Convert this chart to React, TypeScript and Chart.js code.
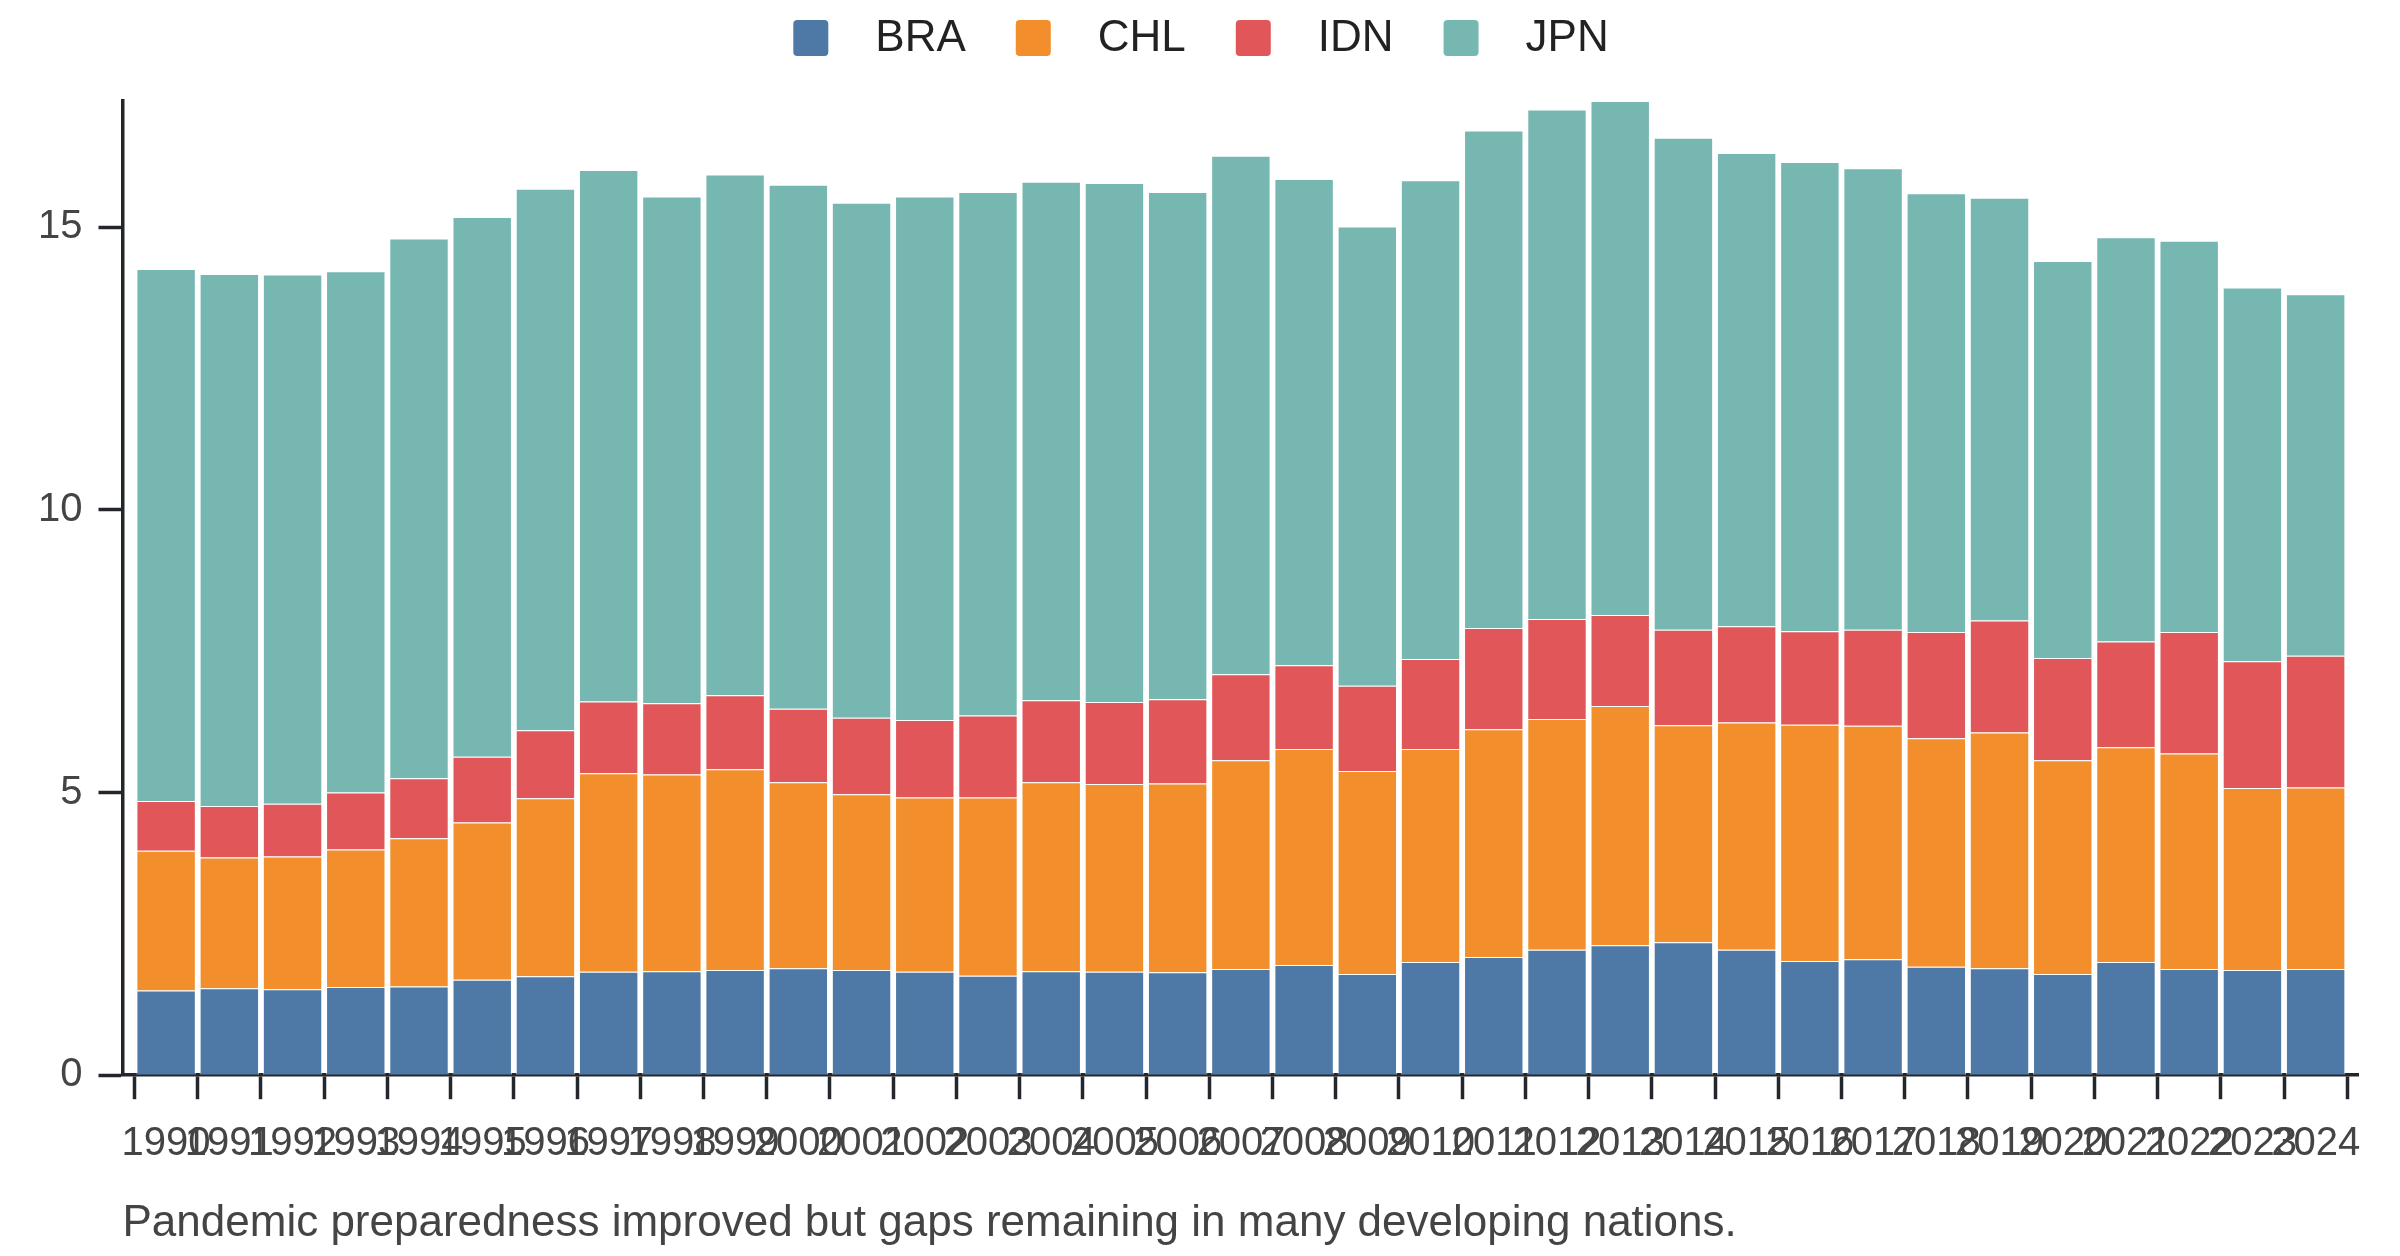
import { useEffect, useRef } from "react";
import { Chart, registerables } from "chart.js";

Chart.register(...registerables);

const YEARS = [
  1990, 1991, 1992, 1993, 1994, 1995, 1996, 1997, 1998, 1999, 2000, 2001,
  2002, 2003, 2004, 2005, 2006, 2007, 2008, 2009, 2010, 2011, 2012, 2013,
  2014, 2015, 2016, 2017, 2018, 2019, 2020, 2021, 2022, 2023, 2024,
];
const BRA = [
  1.5, 1.54, 1.52, 1.56, 1.57, 1.69, 1.75, 1.83, 1.84, 1.86, 1.89, 1.86,
  1.83, 1.76, 1.84, 1.83, 1.82, 1.88, 1.95, 1.79, 2.0, 2.09, 2.22, 2.3,
  2.35, 2.22, 2.02, 2.05, 1.92, 1.89, 1.79, 2.0, 1.88, 1.86, 1.88,
];
const CHL = [
  2.47, 2.31, 2.35, 2.43, 2.62, 2.78, 3.15, 3.51, 3.48, 3.55, 3.29, 3.11,
  3.08, 3.15, 3.34, 3.32, 3.34, 3.69, 3.82, 3.59, 3.77, 4.03, 4.08, 4.23,
  3.84, 4.02, 4.18, 4.13, 4.04, 4.17, 3.78, 3.8, 3.81, 3.22, 3.21,
];
const IDN = [
  0.88, 0.91, 0.93, 1.01, 1.06, 1.16, 1.2, 1.27, 1.26, 1.31, 1.3, 1.35,
  1.37, 1.45, 1.45, 1.45, 1.49, 1.52, 1.48, 1.51, 1.59, 1.79, 1.77, 1.61,
  1.69, 1.7, 1.65, 1.7, 1.88, 1.98, 1.81, 1.87, 2.15, 2.24, 2.33,
];
const JPN = [
  9.41, 9.41, 9.36, 9.22, 9.55, 9.55, 9.58, 9.4, 8.96, 9.21, 9.27, 9.11,
  9.26, 9.26, 9.17, 9.18, 8.97, 9.17, 8.6, 8.12, 8.47, 8.8, 9.01, 9.09,
  8.7, 8.37, 8.3, 8.16, 7.76, 7.48, 7.02, 7.15, 6.92, 6.61, 6.39,
];
const SERIES_NAMES = ["BRA", "CHL", "IDN", "JPN"];
const SERIES_VALUES = [BRA, CHL, IDN, JPN];
const COLORS = ["#4e79a7", "#f28e2b", "#e15759", "#76b7b2"];
const Y_TICKS = [0, 5, 10, 15];
const CAPTION =
  "Pandemic preparedness improved but gaps remaining in many developing nations.";

const FONT = '"Liberation Sans", Arial, sans-serif';
const AXIS = "#23262b";

// legend drawn above the plot: box, wide gap, label
const topLegend = {
  id: "topLegend",
  afterDraw(chart: any) {
    const { ctx } = chart;
    const box = 35;
    const gap = 47;
    const spacing = 50;
    ctx.save();
    ctx.font = `44px ${FONT}`;
    ctx.textBaseline = "middle";
    ctx.textAlign = "left";
    const items = chart.data.datasets.map((ds: any) => ({
      text: ds.label,
      color: ds.backgroundColor,
      w: box + gap + ctx.measureText(ds.label).width,
    }));
    const total =
      items.reduce((s: number, it: any) => s + it.w, 0) +
      spacing * (items.length - 1);
    let x = chart.width / 2 + 1 - total / 2;
    const cy = 38;
    for (const it of items) {
      ctx.fillStyle = it.color;
      ctx.beginPath();
      ctx.roundRect(x, cy - 18, box, 36, 4);
      ctx.fill();
      ctx.fillStyle = "#222";
      ctx.fillText(it.text, x + box + gap, cy + 1);
      x += it.w + spacing;
    }
    ctx.restore();
  },
};

export default function App() {
  const ref = useRef<HTMLCanvasElement | null>(null);

  useEffect(() => {
    document.body.style.margin = "0";
    if (!ref.current) return;
    const ctx = ref.current.getContext("2d");
    if (!ctx) return;

    const totals = YEARS.map((_, i) =>
      SERIES_VALUES.reduce((s, arr) => s + arr[i], 0)
    );

    const chart = new Chart(ctx, {
      type: "bar",
      data: {
        datasets: SERIES_NAMES.map((name, k) => ({
          label: name,
          data: YEARS.map((y, i) => ({ x: y, y: SERIES_VALUES[k][i] })),
          backgroundColor: COLORS[k],
          borderColor: "rgba(255,255,255,0.6)",
          borderWidth: 1,
          barPercentage: 0.94,
          categoryPercentage: 1,
        })),
      },
      plugins: [topLegend],
      options: {
        animation: false,
        responsive: true,
        maintainAspectRatio: false,
        layout: { padding: { top: 101, right: 42, left: 22, bottom: 0 } },
        plugins: {
          legend: { display: false },
          tooltip: { enabled: false },
          title: {
            display: true,
            text: CAPTION,
            position: "bottom",
            align: "start",
            fullSize: false,
            color: "#444",
            font: { family: FONT, size: 44, weight: "normal" },
            padding: { top: 8, bottom: 6 },
          },
        },
        scales: {
          x: {
            type: "linear",
            stacked: true,
            offset: false,
            min: YEARS[0] - 0.69,
            max: YEARS[YEARS.length - 1] + 0.67,
            afterBuildTicks: (axis: any) => {
              axis.ticks = YEARS.map((v) => ({ value: v }));
            },
            ticks: {
              autoSkip: false,
              maxRotation: 0,
              minRotation: 0,
              padding: 21,
              color: "#444",
              font: { family: FONT, size: 40 },
              callback: (v: any) => String(v),
            },
            grid: {
              offset: true,
              drawOnChartArea: false,
              drawTicks: true,
              tickLength: 24,
              tickWidth: 3.5,
              color: AXIS,
            },
            border: { color: AXIS, width: 3.5 },
          },
          y: {
            stacked: true,
            min: 0,
            max: Math.max(...totals),
            afterBuildTicks: (axis: any) => {
              axis.ticks = Y_TICKS.map((v) => ({ value: v }));
            },
            ticks: {
              padding: 16,
              color: "#444",
              font: { family: FONT, size: 40 },
            },
            grid: {
              drawOnChartArea: false,
              drawTicks: true,
              tickLength: 24,
              tickWidth: 3.5,
              color: AXIS,
            },
            border: { color: AXIS, width: 3.5 },
          },
        },
      },
    });

    return () => chart.destroy();
  }, []);

  return (
    <div style={{ width: 2400, height: 1256, position: "relative" }}>
      <canvas ref={ref} />
    </div>
  );
}
